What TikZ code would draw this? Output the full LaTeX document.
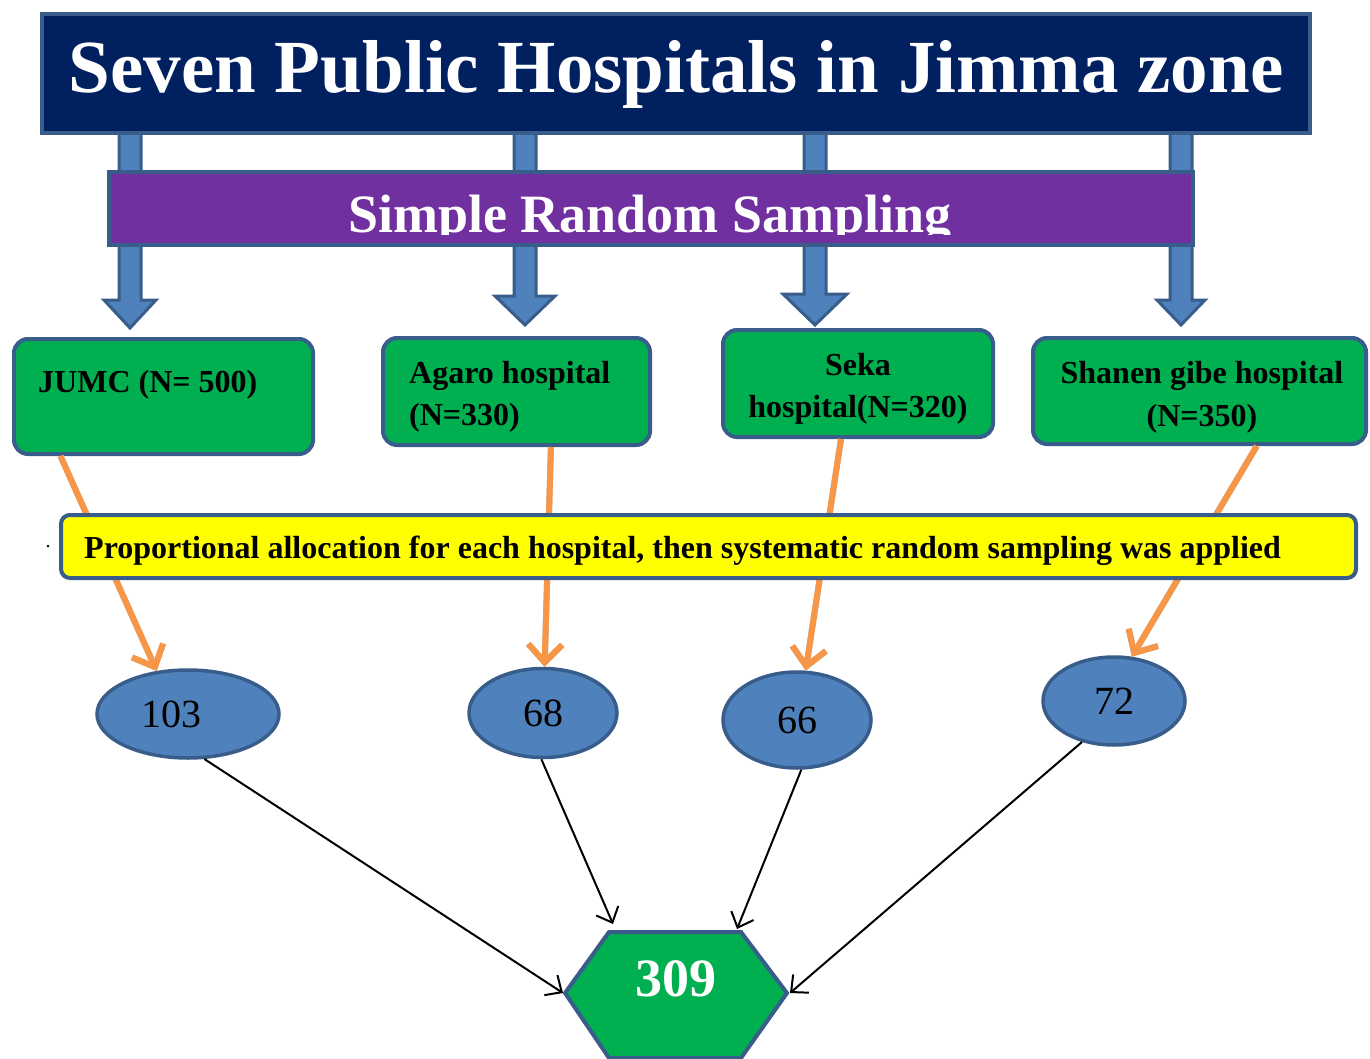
\documentclass[tikz,border=0pt]{standalone}
\usepackage{fontspec}
\setmainfont{Liberation Serif}
\usetikzlibrary{arrows.meta,shapes.geometric,calc}
\definecolor{navyC}{HTML}{002060}
\definecolor{purpleC}{HTML}{7030A0}
\definecolor{greenC}{HTML}{00B050}
\definecolor{blueC}{HTML}{4F81BD}
\definecolor{edgeC}{HTML}{385D8A}
\definecolor{orangeC}{HTML}{F79646}
\definecolor{yellowC}{HTML}{FFFF00}
\begin{document}
\begin{tikzpicture}[x=1pt,y=-1pt,
  band/.style={draw=edgeC, line width=4pt, inner sep=0pt},
  gbox/.style={draw=edgeC, fill=greenC, line width=4pt, rounded corners=14pt, inner sep=0pt},
  ybox/.style={draw=edgeC, fill=yellowC, line width=4pt, rounded corners=9pt, inner sep=0pt},
  ell/.style={ellipse, draw=edgeC, fill=blueC, line width=3.5pt, inner sep=0pt, font=\fontsize{40}{44}\selectfont},
  boxtxt/.style={inner sep=0pt, font=\fontsize{32}{36}\selectfont\bfseries},
  blockarrow/.style={draw=edgeC, fill=blueC, line width=3pt, line join=miter},
  orng/.style={draw=orangeC, line width=6pt, -{Straight Barb[length=18pt,width=34pt]}},
  orngshadow/.style={draw=black!30, line width=6pt, -{Straight Barb[length=18pt,width=34pt]}, xshift=3pt, yshift=-3pt},
  blk/.style={draw=black, line width=2pt, -{Straight Barb[length=13pt,width=24pt]}}
]
\useasboundingbox (0,0) rectangle (1370,1059);

% block arrows (behind title and band)
\foreach \cx/\hy/\tip/\hw in {130/300/328/26, 525/296/325/30, 815/294/325/32, 1181/300/325/24}{
  \draw[blockarrow] (\cx-11,128) -- (\cx+11,128) -- (\cx+11,\hy) -- (\cx+\hw,\hy) -- (\cx,\tip) -- (\cx-\hw,\hy) -- (\cx-11,\hy) -- cycle;
}

% title
\node[band, fill=navyC, minimum width=1268pt, minimum height=119pt] (title) at (676,73.5) {};
\node[inner sep=0pt, text=white, font=\fontsize{75}{80}\selectfont\bfseries, anchor=base] (titleT) at (676,93) {Seven Public Hospitals in Jimma zone};

% purple band
\node[band, fill=purpleC, minimum width=1084pt, minimum height=73pt] (srs) at (651,208.5) {};
\begin{scope}
  \clip (109,172) rectangle (1193,235);
  \node[inner sep=0pt, text=white, font=\fontsize{54}{58}\selectfont\bfseries, anchor=base] (srsT) at (650,233) {Simple Random Sampling};
\end{scope}

% hospital boxes
\node[gbox, minimum width=299pt, minimum height=115pt] (jumc) at (163.5,396.5) {};
\node[gbox, minimum width=267pt, minimum height=107pt] (agaro) at (516.5,391.5) {};
\node[gbox, minimum width=270pt, minimum height=107pt] (seka) at (858,383.5) {};
\node[gbox, minimum width=333pt, minimum height=106pt] (shanen) at (1199.5,391) {};

\node[boxtxt, anchor=base west] (jumcT) at (38,392) {JUMC (N= 500)};
\node[boxtxt, anchor=base west] (agaroT1) at (409,383) {Agaro hospital};
\node[boxtxt, anchor=base west] (agaroT2) at (409,425) {(N=330)};
\node[boxtxt, anchor=base] (sekaT1) at (858,375) {Seka};
\node[boxtxt, anchor=base] (sekaT2) at (858,417) {hospital(N=320)};
\node[boxtxt, anchor=base] (shanenT1) at (1202,383) {Shanen gibe hospital};
\node[boxtxt, anchor=base] (shanenT2) at (1202,426) {(N=350)};

% ellipses
\node[ell, minimum width=182pt, minimum height=88pt] (e1) at (188,714) {103\hspace*{34pt}};
\node[ell, minimum width=148pt, minimum height=89pt] (e2) at (543,713) {68};
\node[ell, minimum width=148pt, minimum height=96pt] (e3) at (797,720) {66};
\node[ell, minimum width=142pt, minimum height=88pt] (e4) at (1114,701) {72};

% orange connectors (behind yellow box)
\coordinate (o1) at ($(jumc.south west)!0.16!(jumc.south east)$);
\coordinate (o2) at ($(agaro.south west)!0.627!(agaro.south east)$);
\coordinate (o3) at ($(seka.south west)!0.438!(seka.south east)$);
\coordinate (o4) at ($(shanen.south west)!0.67!(shanen.south east)$);
\coordinate (i1) at (e1.126);
\coordinate (i2) at (e2.88);
\coordinate (i3) at (e3.80);
\coordinate (i4) at (e4.68);
\foreach \a/\b in {o1/i1, o2/i2, o3/i3, o4/i4}{
  \draw[orngshadow] (\a) -- (\b);
  \draw[orng] (\a) -- (\b);
}

% yellow box
\node[ybox, minimum width=1295pt, minimum height=63pt] (alloc) at (708.5,546.5) {};
\node[boxtxt, anchor=base west] (allocT) at (84,558) {Proportional allocation for each hospital, then systematic random sampling was applied};
\node[inner sep=0pt, font=\fontsize{20}{22}\selectfont, anchor=base] (dot) at (48,547) {.};

% hexagon
\coordinate (hL) at (565,993);
\coordinate (hTL) at (609,932);
\coordinate (hTR) at (741,932);
\coordinate (hR) at (787,993);
\coordinate (hBR) at (741,1058);
\coordinate (hBL) at (609,1058);
\draw[draw=edgeC, fill=greenC, line width=4pt, line join=miter] (hL) -- (hTL) -- (hTR) -- (hR) -- (hBR) -- (hBL) -- cycle;
\node[inner sep=0pt, text=white, font=\fontsize{54}{58}\selectfont\bfseries] (total) at (676,979) {309};

% black connectors
\coordinate (b1) at ($(hL)+(-2,0)$);
\coordinate (b2) at ($(hTL)+(4,-8)$);
\coordinate (b3) at ($(hTR)+(-4,-3)$);
\coordinate (b4) at ($(hR)+(3,0)$);
\draw[blk] (e1.-70) -- (b1);
\draw[blk] (e2.-92) -- (b2);
\draw[blk] (e3.-85) -- (b3);
\draw[blk] (e4.-128) -- (b4);
\end{tikzpicture}
\end{document}
